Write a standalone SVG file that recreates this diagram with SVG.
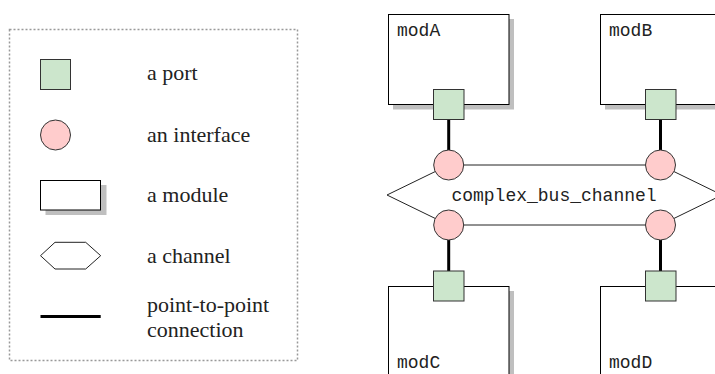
<svg xmlns="http://www.w3.org/2000/svg" width="715" height="374" viewBox="0 0 715 374">
<style>
.port{fill:#cce6cc;stroke:#333;stroke-width:1}
.iface{fill:#ffcccc;stroke:#333;stroke-width:1}
.mod{fill:#fff;stroke:#000;stroke-width:1}
.shadow{fill:#bfbfbf}
.chan{fill:#fff;stroke:#222;stroke-width:1}
.p2p{stroke:#000;stroke-width:3;fill:none}
.mt{font-family:'Liberation Mono','Courier New',monospace;font-size:18px;fill:#222}
</style>
<rect width="715" height="374" fill="#fff"/>
<g id="legend">
  <rect x="9.5" y="29.5" width="288" height="331" fill="none" stroke="#999" stroke-width="1.5" stroke-dasharray="2 2"/>
  <rect class="port" x="40.5" y="59.5" width="30" height="30"/>
  <circle class="iface" cx="55.5" cy="135" r="15"/>
  <rect class="shadow" x="45.5" y="185" width="61" height="30"/>
  <rect class="mod" x="40.5" y="180.5" width="60" height="29.5"/>
  <polygon class="chan" stroke="#555" points="40.5,255.7 55,242.3 85.7,242.3 100.7,255.7 85.7,269 55,269"/>
  <line class="p2p" x1="40.5" y1="316.5" x2="100.7" y2="316.5"/>
  <g font-family="Liberation Serif, serif" font-size="22" fill="#222">
    <text x="147" y="80">a port</text>
    <text x="147" y="142">an interface</text>
    <text x="147" y="202">a module</text>
    <text x="147" y="263">a channel</text>
    <text x="147" y="312">point-to-point</text>
    <text x="147" y="337">connection</text>
  </g>
</g>
<g id="channel">
  <polygon class="chan" points="387,195 448.7,165 660.5,165 722,195 660.5,225 448.7,225"/>
  <text class="mt" x="554" y="201" text-anchor="middle">complex_bus_channel</text>
</g>
<g id="modA">
  <rect class="shadow" x="393" y="19" width="121" height="90.5"/>
  <rect class="mod" x="388.5" y="14.5" width="120.5" height="90"/>
  <text class="mt" x="397" y="36">modA</text>
</g>
<g id="modB">
  <rect class="shadow" x="605" y="19" width="121" height="90.5"/>
  <rect class="mod" x="600.5" y="14.5" width="120.5" height="90"/>
  <text class="mt" x="609" y="36">modB</text>
</g>
<g id="modC">
  <rect class="shadow" x="393" y="291" width="121" height="90"/>
  <rect class="mod" x="388.5" y="286.5" width="120.5" height="90"/>
  <text class="mt" x="397" y="368">modC</text>
</g>
<g id="modD">
  <rect class="shadow" x="605" y="291" width="121" height="90"/>
  <rect class="mod" x="600.5" y="286.5" width="120.5" height="90"/>
  <text class="mt" x="609" y="368">modD</text>
</g>
<g id="connectors">
  <line class="p2p" x1="448.7" y1="119" x2="448.7" y2="150"/>
  <line class="p2p" x1="660.5" y1="119" x2="660.5" y2="150"/>
  <line class="p2p" x1="448.7" y1="240" x2="448.7" y2="271"/>
  <line class="p2p" x1="660.5" y1="240" x2="660.5" y2="271"/>
</g>
<g id="portA"><rect class="port" x="433.5" y="89.5" width="30.5" height="30"/></g>
<g id="portB"><rect class="port" x="645.5" y="89.5" width="30.5" height="30"/></g>
<g id="portC"><rect class="port" x="433.5" y="271" width="30.5" height="30"/></g>
<g id="portD"><rect class="port" x="645.5" y="271" width="30.5" height="30"/></g>
<g id="ifA"><circle class="iface" cx="448.7" cy="165" r="15"/></g>
<g id="ifB"><circle class="iface" cx="660.5" cy="165" r="15"/></g>
<g id="ifC"><circle class="iface" cx="448.7" cy="225" r="15"/></g>
<g id="ifD"><circle class="iface" cx="660.5" cy="225" r="15"/></g>
</svg>
